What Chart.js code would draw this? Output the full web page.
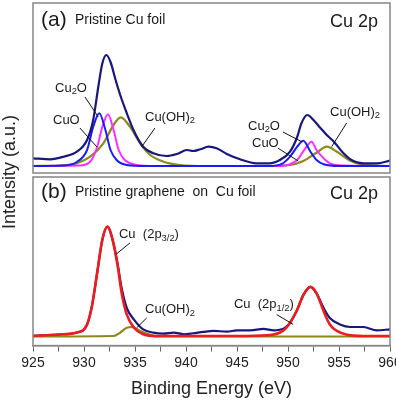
<!DOCTYPE html>
<html>
<head>
<meta charset="utf-8">
<script src="https://cdn.jsdelivr.net/npm/chart.js@4"></script>
<style>
  html, body { margin: 0; padding: 0; background: #fff; overflow: hidden; width: 396px; height: 404px; }
  canvas { position: absolute; left: 0; }
  #top { top: 0; }
  #bottom { top: 174px; }
  #ytitle {
    position: absolute; left: 9px; top: 172px;
    transform: translate(-50%, -50%) rotate(-90deg);
    font: 18px "Liberation Sans", Arial, sans-serif; color: #222;
    white-space: nowrap; line-height: 1;
  }
</style>
</head>
<body>
<canvas id="top" width="420" height="176"></canvas>
<canvas id="bottom" width="420" height="230"></canvas>
<div id="ytitle">Intensity (a.u.)</div>
<script>
var FONT = '"Liberation Sans", Arial, sans-serif';

// x ticks (eV)
var tickStep = 2.5;
var xMin = 925, xMax = 960;

// ---- panel (a): pristine Cu foil ----
var aEnvE = [925, 926.7, 928.0, 929.3, 930.3, 930.9, 931.4, 931.8, 932.2, 932.6, 933.1, 933.55, 934.2, 934.85, 935.8, 936.8, 938.1, 939.1, 940.1, 940.7, 941.4, 942.2, 943.0, 944.0, 945.3, 946.9, 948.2, 949.2, 950.2, 950.9, 951.3, 951.9, 952.5, 953.2, 953.8, 954.5, 955.3, 956.1, 957.4, 958.7, 960];
var aEnvI = [7.7, 6.7, 9.3, 14.3, 26, 46, 79, 102.7, 111, 104, 86, 71, 52.7, 36, 19.3, 12.7, 10, 12, 16, 15, 16.7, 19.3, 17.7, 12, 6.7, 2.7, 2.7, 6, 14.3, 29, 42.3, 51, 46, 37.7, 31, 24.3, 14.3, 6.7, 2.7, 2.7, 5.3];

var aCu2OE = [925, 928.0, 929.3, 930.3, 930.9, 931.5, 932.1, 932.6, 933.2, 934.2, 936, 948, 949.5, 950.2, 950.9, 951.5, 952.2, 952.8, 953.5, 955, 960];
var aCu2OI = [0, 0.5, 4, 16, 39, 52.7, 36, 16, 6, 1, 0, 0, 2.7, 9.3, 19.3, 25.3, 14.3, 6, 1.7, 0, 0];

var aCuOE = [925, 929.5, 930.6, 931.3, 931.8, 932.35, 932.9, 933.4, 934.0, 935.2, 937, 949, 950.2, 950.9, 951.7, 952.3, 952.8, 953.5, 954.1, 955.5, 960];
var aCuOI = [0, 0.5, 4.3, 19.3, 39.3, 51.7, 36, 16, 6, 1, 0, 0, 1.7, 6, 17.7, 24.3, 16, 7.7, 2.7, 0.5, 0];

var aOHE = [925, 927.5, 929.3, 930.6, 931.9, 932.9, 933.6, 934.5, 935.5, 936.5, 937.8, 939.4, 942, 948, 950.2, 951.5, 952.8, 953.8, 954.8, 956.1, 957.4, 960];
var aOHI = [0, 0.5, 2.7, 9.3, 22.7, 41, 48.7, 39.3, 22.7, 11, 4.3, 1, 0, 0, 1, 5, 13.3, 19.3, 14.3, 5.3, 1.3, 0];

// ---- panel (b): pristine graphene on Cu foil ----
var bEnvE = [925, 928.0, 929.3, 930.3, 930.8, 931.3, 931.8, 932.3, 932.8, 933.3, 933.7, 934.2, 934.9, 935.8, 936.8, 937.8, 938.8, 939.8, 940.7, 941.7, 942.7, 944.0, 945.0, 946.3, 947.6, 948.6, 949.6, 950.2, 950.9, 951.5, 952.2, 952.8, 953.5, 954.1, 955.1, 956.1, 957.4, 958.7, 960];
var bEnvI = [0.7, 2.3, 4, 12.3, 32.3, 65.7, 99, 112.3, 99, 74, 49, 29, 17.3, 7.3, 4, 3, 4, 2.3, 3.3, 4.7, 5.7, 5, 6.3, 6.3, 7.7, 6.3, 8.3, 14, 27.3, 42.3, 50.7, 44, 29, 19, 12.3, 9.7, 9.7, 6.3, 7.3];

var bCuE = [925, 928.0, 929.3, 930.3, 930.8, 931.3, 931.8, 932.3, 932.8, 933.3, 933.7, 934.2, 934.9, 935.8, 937.1, 945, 948, 949.5, 950.2, 950.9, 951.5, 952.2, 952.8, 953.5, 954.1, 954.8, 955.8, 957.4, 960];
var bCuI = [0.5, 2.3, 4, 12.3, 32.3, 65.7, 99, 112.3, 99, 72.3, 44, 22.3, 9, 2.3, 0.5, 0.5, 1.2, 5.7, 14, 27.3, 42.3, 50.7, 44, 25.7, 12.3, 5.7, 1.7, 0.5, 0.5];

var bOHE = [925, 932.9, 933.55, 934.2, 934.7, 935.5, 936.5, 937.1, 960];
var bOHI = [0, 0.5, 4, 9, 9.7, 5.7, 1.7, 0, 0];

var NAVY = '#17177e', BLUE = '#1c1cf0', MAGENTA = '#ff2cff', OLIVE = '#8c8a1c', RED = '#ee1c1c';

function pts(xs, ys) {
  return xs.map(function (x, i) { return { x: x, y: ys[i] }; });
}
function line(xs, ys, color, width) {
  return { data: pts(xs, ys), borderColor: color, borderWidth: width, pointRadius: 0, fill: false, cubicInterpolationMode: 'monotone' };
}

function drawRich(ctx, parts, x, y, size) {
  var cx = x;
  parts.forEach(function (p) {
    var s = p[1] ? size * 0.72 : size;
    ctx.font = s + 'px ' + FONT;
    ctx.fillText(p[0], cx, y + (p[1] ? size * 0.3 : 0));
    cx += ctx.measureText(p[0]).width;
  });
}

var notesPlugin = {
  id: 'notes',
  afterDatasetsDraw: function (chart, args, opts) {
    var ctx = chart.ctx, a = chart.chartArea, xs = chart.scales.x, ys = chart.scales.y;
    ctx.save();
    // frame
    ctx.strokeStyle = '#858585';
    ctx.lineWidth = 1.5;
    ctx.strokeRect(a.left, a.top, a.right - a.left, a.bottom - a.top);
    ctx.fillStyle = '#1a1a1a';
    ctx.textBaseline = 'middle';
    // panel header
    ctx.textAlign = 'left';
    ctx.font = '21px ' + FONT;
    ctx.fillText(opts.tag, a.left + 8, a.top + opts.headY);
    ctx.font = '14px ' + FONT;
    ctx.fillText(opts.title, a.left + 42, a.top + opts.headY);
    ctx.textAlign = 'right';
    ctx.font = '18px ' + FONT;
    ctx.fillText('Cu 2p', a.right - 12, a.top + opts.headY + 2);
    ctx.textAlign = 'left';
    // leader lines
    ctx.strokeStyle = '#111';
    ctx.lineWidth = 1;
    opts.leaders.forEach(function (l) {
      ctx.beginPath();
      ctx.moveTo(xs.getPixelForValue(l[0]), ys.getPixelForValue(l[1]));
      ctx.lineTo(xs.getPixelForValue(l[2]), ys.getPixelForValue(l[3]));
      ctx.stroke();
    });
    // labels
    opts.labels.forEach(function (l) {
      drawRich(ctx, l.parts, xs.getPixelForValue(l.x), ys.getPixelForValue(l.y), 13);
    });
    ctx.restore();
  }
};

var CU2O = [['Cu', 0], ['2', 1], ['O', 0]];
var CUO = [['CuO', 0]];
var CUOH = [['Cu(OH)', 0], ['2', 1]];

new Chart(document.getElementById('top'), {
  type: 'line',
  data: {
    datasets: [
      line(aEnvE, aEnvI, NAVY, 2.2),
      line(aCu2OE, aCu2OI, BLUE, 2),
      line(aCuOE, aCuOI, MAGENTA, 2),
      line(aOHE, aOHI, OLIVE, 2.2)
    ]
  },
  options: {
    responsive: false,
    animation: false,
    layout: { padding: { left: 33, right: 30, top: 3, bottom: 3 } },
    scales: {
      x: { type: 'linear', min: xMin, max: xMax, display: false },
      y: { min: -7, max: 163, display: false }
    },
    plugins: {
      legend: { display: false },
      tooltip: { enabled: false },
      notes: {
        tag: '(a)', title: 'Pristine Cu foil', headY: 17,
        labels: [
          { parts: CU2O, x: 927.16, y: 78 },
          { parts: CUO, x: 926.96, y: 46 },
          { parts: CUOH, x: 935.98, y: 49 },
          { parts: CU2O, x: 946.08, y: 40 },
          { parts: CUO, x: 946.47, y: 23 },
          { parts: CUOH, x: 954.12, y: 54 }
        ],
        leaders: [
          [930.1, 69, 931.4, 49],
          [929.6, 38, 931.27, 19],
          [936.96, 38, 935.66, 19.3],
          [949.5, 34, 951.34, 24.3],
          [949.0, 18, 951.0, 5],
          [955.75, 43, 954.28, 19.3]
        ]
      }
    }
  },
  plugins: [notesPlugin]
});

new Chart(document.getElementById('bottom'), {
  type: 'line',
  data: {
    datasets: [
      line(bCuE, bCuI, RED, 2.6),
      line(bOHE, bOHI, OLIVE, 2.2),
      line(bEnvE, bEnvI, NAVY, 2.2)
    ]
  },
  options: {
    responsive: false,
    animation: false,
    layout: { padding: { left: 33, right: 30, top: 3, bottom: 0 } },
    scales: {
      x: {
        type: 'linear', min: xMin, max: xMax, position: 'bottom',
        ticks: {
          stepSize: tickStep, autoSkip: false, maxRotation: 0, padding: 3,
          color: '#222', font: { size: 14, family: FONT },
          callback: function (v) { return v % 5 === 0 ? String(v) : ''; }
        },
        grid: { drawOnChartArea: false, drawTicks: true, tickLength: 6, color: '#666', lineWidth: 1 },
        border: { display: true, color: '#858585', width: 1.5 },
        title: { display: true, text: 'Binding Energy (eV)', color: '#222', font: { size: 18, family: FONT }, padding: { top: 4, bottom: 4 } }
      },
      y: { min: -9.3, max: 163, display: false }
    },
    plugins: {
      legend: { display: false },
      tooltip: { enabled: false },
      notes: {
        tag: '(b)', title: 'Pristine graphene  on  Cu foil', headY: 15,
        labels: [
          { parts: [['Cu  (2p', 0], ['3/2', 1], [')', 0]], x: 933.43, y: 104 },
          { parts: CUOH, x: 935.98, y: 27.7 },
          { parts: [['Cu  (2p', 0], ['1/2', 1], [')', 0]], x: 944.7, y: 32.7 }
        ],
        leaders: [
          [934.51, 95.7, 933.14, 84],
          [936.15, 19, 935.17, 9],
          [948.9, 22.4, 950.5, 12.4]
        ]
      }
    }
  },
  plugins: [notesPlugin]
});
</script>
</body>
</html>
